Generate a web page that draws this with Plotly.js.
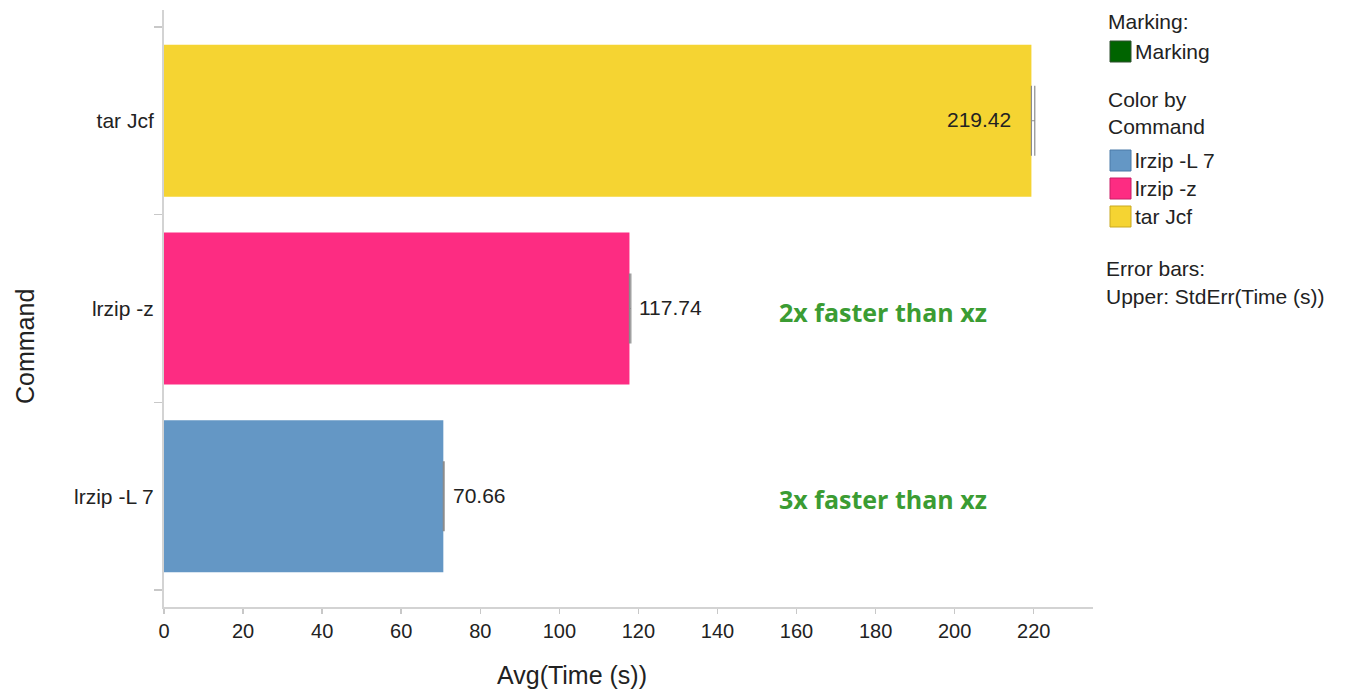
<!DOCTYPE html>
<html>
<head>
<meta charset="utf-8">
<script src="https://cdn.plot.ly/plotly-3.0.1.min.js"></script>
<style>html,body{margin:0;padding:0;background:#fff;}#chart{width:1345px;height:694px;}</style>
</head>
<body>
<div id="chart"></div>
<script>
// ---- data ----
const commands = ["lrzip -L 7", "lrzip -z", "tar Jcf"];
const avgTime = [70.66, 117.74, 219.42];
const stdErr = [0.2, 0.35, 0.85];
const barColors = ["#6497c5", "#fd2c82", "#f5d432"];
const labelPos = ["outside", "outside", "inside"];
const noteTexts = ["2x faster than xz", "3x faster than xz"];
const noteCats = ["lrzip -z", "lrzip -L 7"];
const noteX = [155, 155];
const xTicks = [0, 20, 40, 60, 80, 100, 120, 140, 160, 180, 200, 220];

// ---- layout geometry ----
const W = 1345, H = 694;
const M = {l: 164, r: 252, t: 10, b: 87};
const pw = W - M.l - M.r, ph = H - M.t - M.b;
const px = v => (v - M.l) / pw;
const py = v => (H - M.b - v) / ph;

const FONT = "Liberation Sans, Arial, sans-serif";
const TXT = "#222";

const trace = {
  type: "bar",
  orientation: "h",
  y: commands,
  x: avgTime,
  width: 0.81,
  marker: {color: barColors, line: {width: 0}},
  error_x: {type: "data", symmetric: false, array: stdErr, arrayminus: commands.map(() => 0),
            color: "#8c8c8c", thickness: 1.2, width: 35},
  hoverinfo: "x+y",
  showlegend: false
};

const annotations = [];
// value labels
commands.forEach((c, i) => {
  const inside = labelPos[i] === "inside";
  annotations.push({
    xref: "x", yref: "y", x: avgTime[i], y: c,
    text: avgTime[i].toFixed(2), showarrow: false,
    xanchor: inside ? "right" : "left", yanchor: "middle",
    xshift: inside ? -18 : 8, yshift: 1,
    font: {family: FONT, size: 21, color: TXT}
  });
});
// notes
noteTexts.forEach((t, i) => {
  annotations.push({
    xref: "x", yref: "y", x: noteX[i], y: noteCats[i], yshift: -3,
    text: "<b>" + t + "</b>", showarrow: false, xanchor: "left", yanchor: "middle",
    font: {family: "Open Sans, sans-serif", size: 25, color: "#3b9c33"}
  });
});
// axis titles
annotations.push({xref: "paper", yref: "paper", x: px(572), y: py(675), text: "Avg(Time (s))",
  xanchor: "center", yanchor: "middle",
  showarrow: false, font: {family: FONT, size: 25, color: TXT}});
annotations.push({xref: "paper", yref: "paper", x: px(25), y: py(347), text: "Command", textangle: -90,
  xanchor: "center", yanchor: "middle",
  showarrow: false, font: {family: FONT, size: 25, color: TXT}});

// legend (text)
const legFont = {family: FONT, size: 21, color: TXT};
const legText = [
  ["Marking:", 1106, 22],
  ["Marking", 1133, 52],
  ["Color by", 1106, 100],
  ["Command", 1106, 126],
  [commands[0], 1133, 160],
  [commands[1], 1133, 188],
  [commands[2], 1133, 216],
  ["Error bars:", 1104, 268],
  ["Upper: StdErr(Time (s))", 1104, 296]
];
legText.forEach(([t, x, y]) => annotations.push({
  xref: "paper", yref: "paper", x: px(x), y: py(y), text: t, showarrow: false,
  xanchor: "left", yanchor: "middle", font: legFont
}));

// legend swatches
const swatchColors = ["#006400"].concat(barColors);
const swatchBorders = ["#2f4f2f", "#4a7aa8", "#c81e66", "#c9a920"];
const swatchTop = [41, 150, 178, 206];
const shapes = swatchColors.map((c, i) => ({
  type: "rect", xref: "paper", yref: "paper",
  x0: px(1110), x1: px(1131), y0: py(swatchTop[i] + 21), y1: py(swatchTop[i]),
  fillcolor: c, line: {color: swatchBorders[i], width: 1}
}));

const layout = {
  width: W, height: H,
  margin: M,
  paper_bgcolor: "#fff", plot_bgcolor: "#fff",
  font: {family: FONT, size: 21, color: TXT},
  showlegend: false,
  xaxis: {
    range: [0, 235], tickvals: xTicks, ticktext: xTicks.map(String),
    ticks: "outside", ticklen: 5, tickcolor: "#c8c8c8", tickwidth: 1.5,
    showline: true, linecolor: "#d3d3d3", linewidth: 2,
    showgrid: false, zeroline: false, fixedrange: true,
    tickfont: {family: FONT, size: 20, color: TXT}
  },
  yaxis: {
    type: "category", categoryorder: "array", categoryarray: commands,
    range: [-0.59, 2.59], tickson: "boundaries",
    ticks: "outside", ticklen: 8, tickcolor: "#c8c8c8", tickwidth: 1.5,
    showline: true, linecolor: "#d3d3d3", linewidth: 2,
    showgrid: false, zeroline: false, fixedrange: true,
    ticklabelstandoff: 4,
    tickfont: {family: FONT, size: 21, color: TXT}
  },
  annotations: annotations,
  shapes: shapes
};

Plotly.newPlot("chart", [trace], layout, {displayModeBar: false, staticPlot: true});
</script>
</body>
</html>
